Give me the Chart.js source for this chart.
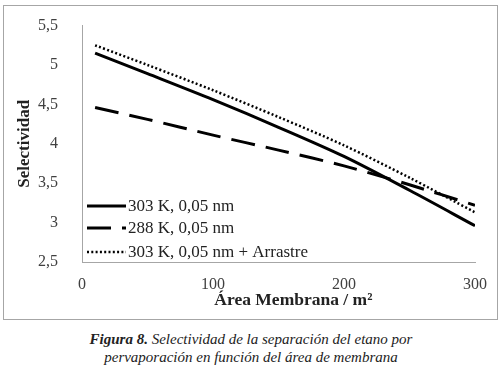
<!DOCTYPE html>
<html>
<head>
<meta charset="utf-8">
<script src="https://cdn.jsdelivr.net/npm/chart.js@4/dist/chart.umd.min.js"></script>
<style>
  html, body { margin: 0; padding: 0; background: #fff; }
  body { width: 502px; height: 381px; position: relative; overflow: hidden; }
  #frame { position: absolute; left: 3px; top: 5px; width: 493px; height: 313px; border: 1px solid #a6a6a6; }
  #wrap { position: absolute; left: 0; top: 0; width: 502px; height: 325px; }
  #caption { position: absolute; left: 0; top: 330px; width: 502px; text-align: center;
    font-family: "Liberation Serif", "Times New Roman", serif; font-style: italic; font-size: 15px; line-height: 18px; color: #222; }
</style>
</head>
<body>
<div id="frame"></div>
<div id="wrap"><canvas id="chart" width="502" height="325"></canvas></div>
<div id="caption"><b>Figura 8.</b> Selectividad de la separación del etano por<br>pervaporación en función del área de membrana</div>
<script>
// data
const area = [10, 50, 100, 150, 200, 250, 300];
const sel303 = [5.15, 4.89, 4.56, 4.21, 3.84, 3.41, 2.96];
const sel288 = [4.46, 4.31, 4.11, 3.92, 3.72, 3.48, 3.22];
const sel303arr = [5.25, 5.00, 4.68, 4.34, 3.98, 3.57, 3.13];
const labels = ['303 K, 0,05 nm', '288 K, 0,05 nm', '303 K, 0,05 nm + Arrastre'];

const SERIF = '"Liberation Serif", "Times New Roman", serif';
const toXY = ys => ys.map((y, i) => ({ x: area[i], y: y }));
const comma = v => String(v).replace('.', ',');

// legend drawn inside the plot area, lower left
const innerLegend = {
  id: 'innerLegend',
  afterDraw(chart) {
    const ctx = chart.ctx;
    const a = chart.chartArea;
    const x0 = a.left + 5, x1 = a.left + 44;
    const rows = [a.bottom - 56, a.bottom - 34, a.bottom - 10];
    ctx.save();
    chart.data.datasets.forEach((ds, i) => {
      const y = rows[i];
      ctx.beginPath();
      ctx.setLineDash(ds.borderDash || []);
      ctx.lineWidth = ds.borderWidth;
      ctx.strokeStyle = ds.borderColor;
      ctx.moveTo(x0, y);
      ctx.lineTo(x1, y);
      ctx.stroke();
      ctx.setLineDash([]);
      ctx.fillStyle = '#222';
      ctx.font = '17px ' + SERIF;
      ctx.textBaseline = 'middle';
      ctx.fillText(ds.label, x1 + 2, y + 1);
    });
    ctx.restore();
  }
};

new Chart(document.getElementById('chart'), {
  type: 'line',
  data: {
    datasets: [
      { label: labels[0], data: toXY(sel303), borderColor: '#000', borderWidth: 3, pointRadius: 0, tension: 0.3 },
      { label: labels[1], data: toXY(sel288), borderColor: '#000', borderWidth: 3, borderDash: [24, 11], pointRadius: 0, tension: 0.3 },
      { label: labels[2], data: toXY(sel303arr), borderColor: '#000', borderWidth: 2.5, borderDash: [2, 2.3], pointRadius: 0, tension: 0.3 }
    ]
  },
  options: {
    responsive: false,
    animation: false,
    layout: { padding: { left: 10, right: 27, top: 22, bottom: 10 } },
    plugins: { legend: { display: false }, tooltip: { enabled: false } },
    scales: {
      x: {
        type: 'linear', min: 0, max: 300,
        ticks: { stepSize: 100, padding: 5, color: '#404040', font: { family: SERIF, size: 16 }, maxRotation: 0 },
        grid: { display: false },
        border: { display: true, color: '#a6a6a6', width: 1 },
        title: { display: true, text: '\u2003\u2002\u2009Área Membrana / m²', color: '#222', font: { family: SERIF, size: 17.5, weight: 'bold' }, padding: { top: 2 } },
        afterFit(s) { s.height = 53; }
      },
      y: {
        min: 2.5, max: 5.5,
        ticks: { stepSize: 0.5, padding: 16, color: '#404040', font: { family: SERIF, size: 16 }, callback: v => comma(v) },
        grid: { display: false },
        border: { display: true, color: '#a6a6a6', width: 1 },
        title: { display: true, text: 'Selectividad', color: '#222', font: { family: SERIF, size: 17, weight: 'bold' }, padding: { bottom: 0 } },
        afterFit(s) { s.width = 72; }
      }
    }
  },
  plugins: [innerLegend]
});
</script>
</body>
</html>
